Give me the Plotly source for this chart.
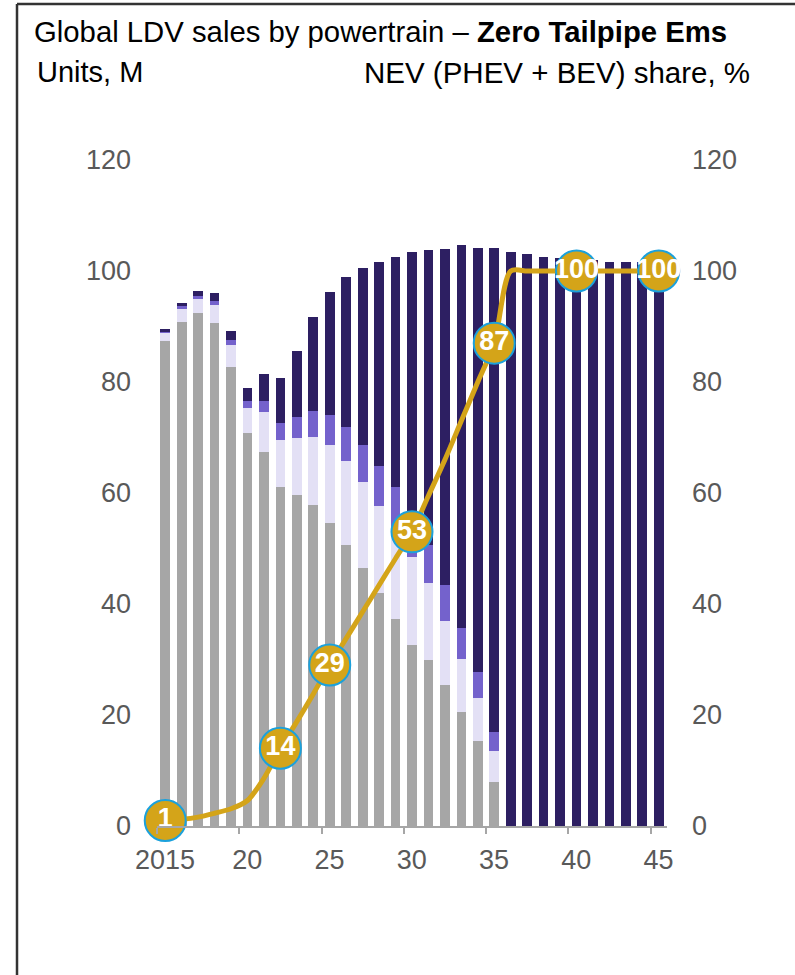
import plotly.graph_objects as go

# Global light-duty vehicle sales by powertrain, million units
years = [2015, 2016, 2017, 2018, 2019, 2020, 2021, 2022, 2023, 2024,
         2025, 2026, 2027, 2028, 2029, 2030, 2031, 2032, 2033, 2034,
         2035, 2036, 2037, 2038, 2039, 2040, 2041, 2042, 2043, 2044, 2045]

ice = [87.3, 90.8, 92.4, 90.7, 82.7, 70.9, 67.4, 61.0, 59.6, 57.8,
       54.6, 50.6, 46.4, 41.9, 37.3, 32.7, 29.9, 25.4, 20.5, 15.4,
       8.0, 0, 0, 0, 0, 0, 0, 0, 0, 0, 0]
hev = [1.6, 2.4, 2.6, 3.1, 4.0, 4.4, 7.2, 8.5, 10.4, 12.3,
       14.0, 15.2, 15.5, 15.7, 16.2, 15.7, 13.8, 11.6, 9.6, 7.6,
       5.5, 0, 0, 0, 0, 0, 0, 0, 0, 0, 0]
phev = [0.2, 0.5, 0.5, 0.8, 0.8, 1.2, 2.0, 3.1, 3.7, 4.7,
        5.4, 6.1, 6.7, 7.2, 7.5, 7.3, 7.0, 6.5, 5.6, 4.7,
        3.5, 0, 0, 0, 0, 0, 0, 0, 0, 0, 0]
bev = [0.5, 0.6, 0.9, 1.5, 1.7, 2.4, 4.9, 8.2, 11.8, 16.9,
       22.3, 27.0, 31.9, 36.8, 41.6, 47.7, 53.1, 60.5, 68.9, 76.5,
       87.2, 103.5, 103.1, 102.6, 102.3, 102.1, 101.9, 101.7, 101.7, 101.6, 101.5]

# NEV (PHEV + BEV) share of sales, %
nev_share = [1, 1.2, 1.6, 2.3, 3.1, 4.6, 8.6, 14, 18.8, 23.8,
             29, 33.8, 38.6, 43.4, 48.2, 53, 59.5, 66, 73, 80,
             87, 100, 100, 100, 100, 100, 100, 100, 100, 100, 100]
labelled_years = [2015, 2022, 2025, 2030, 2035, 2040, 2045]

x_tick_years = [2015, 2020, 2025, 2030, 2035, 2040, 2045]
x_tick_text = ["2015", "20", "25", "30", "35", "40", "45"]
y_ticks = [0, 20, 40, 60, 80, 100, 120]

FONT = "Liberation Sans, Arial, sans-serif"
GREY_TXT = "#595959"
AXIS_GREY = "#a6a6a6"
GOLD = "#d4a419"

fig = go.Figure()

segments = [
    ("ICE", ice, "#a6a6a6"),
    ("HEV", hev, "#e3e0f5"),
    ("PHEV", phev, "#7462cc"),
    ("BEV", bev, "#2d1f62"),
]
for name, vals, col in segments:
    fig.add_trace(go.Bar(x=years, y=vals, name=name, marker_color=col,
                         marker_line_width=0, showlegend=False))

fig.add_trace(go.Scatter(
    x=years, y=nev_share, mode="lines", yaxis="y2",
    line=dict(color=GOLD, width=5, shape="spline", smoothing=0.8),
    showlegend=False, cliponaxis=False,
))

lab_y = [nev_share[years.index(yr)] for yr in labelled_years]
fig.add_trace(go.Scatter(
    x=labelled_years, y=lab_y, mode="markers+text", yaxis="y2",
    text=[f"{v:g}" for v in lab_y], textposition="middle center",
    textfont=dict(family=FONT, size=27, color="white", weight="bold"),
    marker=dict(size=41, color=GOLD, line=dict(color="#1ba1dc", width=2)),
    showlegend=False, cliponaxis=False,
))

fig.update_layout(
    width=795, height=975,
    margin=dict(l=157, r=128, t=160, b=149),
    paper_bgcolor="white", plot_bgcolor="white",
    barmode="stack", bargap=0.41,
    font=dict(family=FONT, color=GREY_TXT),
    xaxis=dict(
        range=[2014.5, 2045.5],
        tickvals=[y - 0.5 for y in x_tick_years],
        ticktext=x_tick_text,
        ticklabelshift=8, ticklabelstandoff=3,
        ticks="outside", ticklen=6, tickwidth=1.5, tickcolor=AXIS_GREY,
        showline=True, linecolor=AXIS_GREY, linewidth=2,
        showgrid=False, zeroline=False,
        tickfont=dict(size=27, color=GREY_TXT),
    ),
    yaxis=dict(
        range=[0, 120], tickvals=y_ticks,
        showgrid=False, zeroline=False, showline=False,
        ticks="", ticklabelstandoff=25,
        tickfont=dict(size=27, color=GREY_TXT),
    ),
    yaxis2=dict(
        range=[0, 120], tickvals=y_ticks, overlaying="y", side="right",
        showgrid=False, zeroline=False, showline=False,
        ticks="", ticklabelstandoff=24,
        tickfont=dict(size=27, color=GREY_TXT),
    ),
)

# Chart header
fig.add_annotation(
    xref="paper", yref="paper", x=-0.2451, y=1.1922,
    xanchor="left", yanchor="middle", showarrow=False,
    text="Global LDV sales by powertrain – <b>Zero Tailpipe Ems</b>",
    font=dict(family=FONT, size=29.3, color="black"),
)
fig.add_annotation(
    xref="paper", yref="paper", x=-0.2392, y=1.1321,
    xanchor="left", yanchor="middle", showarrow=False,
    text="Units, M", font=dict(family=FONT, size=29, color="black"),
)
fig.add_annotation(
    xref="paper", yref="paper", x=1.1667, y=1.1321,
    xanchor="right", yanchor="middle", showarrow=False,
    text="NEV (PHEV + BEV) share, %", font=dict(family=FONT, size=29.5, color="black"),
)

# Frame lines on the top and left edges
fig.add_shape(type="line", xref="paper", yref="paper",
              x0=-0.2745, x1=1.26, y0=1.2342, y1=1.2342,
              line=dict(color="#333333", width=2.5))
fig.add_shape(type="line", xref="paper", yref="paper",
              x0=-0.2745, x1=-0.2745, y0=1.2342, y1=-0.24,
              line=dict(color="#333333", width=2.5))

fig.write_html("out.html")
